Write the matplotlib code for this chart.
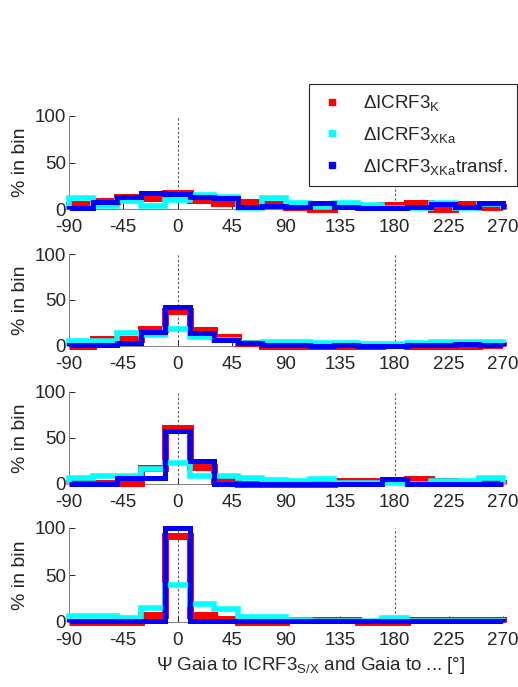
import matplotlib
matplotlib.use("Agg")
import matplotlib.pyplot as plt
from matplotlib.lines import Line2D

plt.rcParams["font.family"] = ["Liberation Sans", "DejaVu Sans"]
plt.rcParams["mathtext.default"] = "regular"
plt.rcParams["axes.unicode_minus"] = False

# bin edges (deg), 18 bins of 20 deg
bin_edges = [-90, -70, -50, -30, -10, 10, 30, 50, 70, 90,
             110, 130, 150, 170, 190, 210, 230, 250, 270]

# % in bin, one row per panel
k_pct = [
    [5, 9, 12.5, 11.5, 17, 10, 6, 8, 5, 2, 0, 4, 2.5, 4, 6, 0, 5, 2],
    [0, 8, 8, 18, 38, 17, 10, 3, 0, 0, 0, 0, 0, 1, 0, 0, 0.5, 1],
    [1, 1, 1, 17, 61, 19, 3, 0, 0, 0, 0, 3, 3, 3, 5.5, 3, 1, 1],
    [0, 0, 0, 7, 91, 7, 3.5, 0, 0, 2, 2, 2, 0, 0, 2.5, 2.5, 2.5, 2.5],
]
xka_pct = [
    [11.5, 3, 9, 3, 10, 15, 13, 1, 11.5, 6, 2.5, 6, 4, 1.5, 1, 6, 1.5, 5],
    [5, 5, 14, 12, 18, 9.5, 6.5, 3, 4, 4.5, 3, 3, 2, 2, 3, 4, 4, 4],
    [6, 9, 9, 16.5, 23, 9, 9, 6.5, 4.5, 3, 5.5, 1, 1, 1, 0, 3.5, 3.5, 6],
    [6.5, 6.5, 4.5, 15, 39, 19, 13.5, 5, 5, 2, 1, 1, 1, 4.5, 1, 1, 1, 1],
]
xka_tr_pct = [
    [1, 7, 13, 17, 16, 13, 11.5, 2.5, 3.5, 2.5, 6, 2, 1.5, 1.5, 2.5, 5, 2, 6],
    [1, 1, 3, 15, 42, 14.5, 6, 3, 1, 1, 0.5, 1, 0.5, 0.5, 1, 1, 2, 1],
    [0, 0, 7, 6.5, 58, 25, 0, 0, 0, 0, 0, 0, 0, 5.5, 0, 0, 0, 0],
    [1, 1, 1, 1, 100, 1, 1, 1, 1, 1, 1, 1, 1, 1, 1, 1, 1, 1],
]

xticks = [-90, -45, 0, 45, 90, 135, 180, 225, 270]
yticks = [0, 50, 100]
series_labels = ["ΔICRF3$_{K}$", "ΔICRF3$_{XKa}$", "ΔICRF3$_{XKa}$transf."]
colors = ["#ff0000", "#00ffff", "#0000ff"]
widths = [5.0, 4.0, 3.6]

fig = plt.figure(figsize=(5.18, 6.87), dpi=100)

left, width = 69 / 518, 434 / 518
tops = [116, 254, 392, 528]
bottoms = [209, 346, 484, 622]
ink = "#262626"
fs = 13.5

for i in range(4):
    ax = fig.add_axes([left, 1 - bottoms[i] / 687, width, (bottoms[i] - tops[i]) / 687])
    # dotted guides at 0 and 180
    for xv in (0, 180):
        ax.plot([xv, xv], [0, 100], ls=(0, (2, 2)), color="#555555", lw=0.8, zorder=1)
    for vals, c, lw in zip([k_pct[i], xka_pct[i], xka_tr_pct[i]], colors, widths):
        ax.stairs(vals, bin_edges, baseline=0, color=c, lw=lw, clip_on=False, zorder=3)
    ax.set_xlim(-90, 270)
    ax.set_ylim(0, 100)
    ax.set_xticks(xticks)
    ax.set_yticks(yticks)
    ax.tick_params(direction="in", length=4, width=0.7, colors=ink, labelsize=fs, pad=2)
    ax.tick_params(axis="x", pad=7)
    for s in ("top", "right"):
        ax.spines[s].set_visible(False)
    for s in ("left", "bottom"):
        ax.spines[s].set_color("#808080")
        ax.spines[s].set_linewidth(0.7)
    ax.set_ylabel("% in bin", fontsize=fs + 0.5, color=ink, labelpad=4)
    if i == 3:
        ax.set_xlabel("Ψ Gaia to ICRF3$_{S/X}$ and Gaia to ... [°]", fontsize=fs,
                      color=ink)
        ax.xaxis.set_label_coords((311 - 69) / 434, -0.35)

handles = [Line2D([], [], ls="none", marker="s", markersize=5, color=c) for c in colors]
leg = fig.legend(handles, series_labels, loc="upper left",
                 bbox_to_anchor=(309 / 518, 1 - 84 / 687), borderaxespad=0,
                 fontsize=fs, fancybox=False, framealpha=1, edgecolor=ink,
                 labelspacing=0.62, handletextpad=0.9, borderpad=0.5,
                 handlelength=1.5)
leg.get_frame().set_linewidth(0.8)
for t in leg.get_texts():
    t.set_color(ink)

fig.savefig("out.png", dpi=100)
